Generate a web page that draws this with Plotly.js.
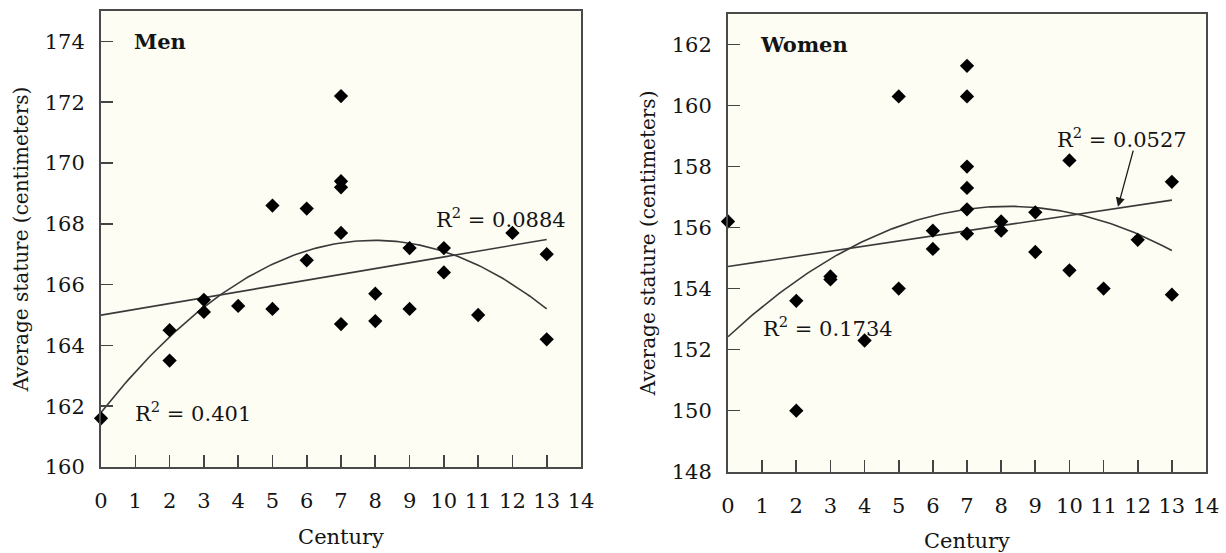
<!DOCTYPE html>
<html>
<head>
<meta charset="utf-8">
<script src="https://cdn.plot.ly/plotly-3.0.1.min.js"></script>
<style>html,body{margin:0;padding:0;background:#fff;}#chart{width:1226px;height:553px;}</style>
</head>
<body>
<div id="chart"></div>
<script>
// ---- data ----
const centuriesMen = [0,2,2,3,3,4,5,5,6,6,7,7,7,7,7,8,8,9,9,10,10,11,12,13,13];
const statureMen   = [161.6,164.5,163.5,165.5,165.1,165.3,168.6,165.2,168.5,166.8,172.2,169.4,169.2,167.7,164.7,165.7,164.8,167.2,165.2,167.2,166.4,165.0,167.7,167.0,164.2];
const centuriesWomen = [0,2,2,3,3,4,5,5,6,6,7,7,7,7,7,7,8,8,9,9,10,10,11,12,13,13];
const statureWomen   = [156.2,153.6,150.0,154.4,154.3,152.3,160.3,154.0,155.9,155.3,161.3,160.3,158.0,157.3,156.6,155.8,156.2,155.9,156.5,155.2,158.2,154.6,154.0,155.6,157.5,153.8];
const xTicks = [0,1,2,3,4,5,6,7,8,9,10,11,12,13,14];
const menTicks = [160,162,164,166,168,170,172,174];
const womenTicks = [148,150,152,154,156,158,160,162];
const panelLabels = ["Men","Women"];
const r2Men = ["R<sup>2</sup> = 0.0884","R<sup>2</sup> = 0.401"];
const r2Women = ["R<sup>2</sup> = 0.0527","R<sup>2</sup> = 0.1734"];

// least-squares polynomial fit (degree 1 or 2) computed from the data
function polyfit(xs, ys, deg){
  const n = deg+1;
  const A = [], b = [];
  for(let i=0;i<n;i++){A.push(new Array(n).fill(0)); b.push(0);}
  for(let k=0;k<xs.length;k++){
    for(let i=0;i<n;i++){
      b[i] += ys[k]*Math.pow(xs[k],i);
      for(let j=0;j<n;j++) A[i][j] += Math.pow(xs[k],i+j);
    }
  }
  for(let i=0;i<n;i++){
    let p=i; for(let r=i+1;r<n;r++) if(Math.abs(A[r][i])>Math.abs(A[p][i])) p=r;
    [A[i],A[p]]=[A[p],A[i]]; [b[i],b[p]]=[b[p],b[i]];
    for(let r=i+1;r<n;r++){const f=A[r][i]/A[i][i]; for(let c=i;c<n;c++) A[r][c]-=f*A[i][c]; b[r]-=f*b[i];}
  }
  const c = new Array(n).fill(0);
  for(let i=n-1;i>=0;i--){let s=b[i]; for(let j=i+1;j<n;j++) s-=A[i][j]*c[j]; c[i]=s/A[i][i];}
  return c;
}
function fitCurve(xs, ys, deg){
  const c = polyfit(xs, ys, deg);
  const lo = Math.min(...xs), hi = Math.max(...xs);
  const fx = [], fy = [];
  for(let i=0;i<=130;i++){
    const x = lo + (hi-lo)*i/130;
    let y = 0; for(let k=0;k<c.length;k++) y += c[k]*Math.pow(x,k);
    fx.push(x); fy.push(y);
  }
  return {x:fx, y:fy};
}

const FONT = "DejaVu Serif, Liberation Serif, serif";
const TXT = '#141414';
const lineStyle = {color:'#3a3a3a', width:1.6};
const marker = {symbol:'diamond', size:11, color:'#000'};

const lm = fitCurve(centuriesMen, statureMen, 1);
const qm = fitCurve(centuriesMen, statureMen, 2);
const lw = fitCurve(centuriesWomen, statureWomen, 1);
const qw = fitCurve(centuriesWomen, statureWomen, 2);

const traces = [
  {x:lm.x, y:lm.y, xaxis:'x', yaxis:'y', mode:'lines', line:lineStyle, hoverinfo:'skip'},
  {x:qm.x, y:qm.y, xaxis:'x', yaxis:'y', mode:'lines', line:lineStyle, hoverinfo:'skip'},
  {x:centuriesMen, y:statureMen, xaxis:'x', yaxis:'y', mode:'markers', marker:marker, cliponaxis:false},
  {x:lw.x, y:lw.y, xaxis:'x2', yaxis:'y2', mode:'lines', line:lineStyle, hoverinfo:'skip'},
  {x:qw.x, y:qw.y, xaxis:'x2', yaxis:'y2', mode:'lines', line:lineStyle, hoverinfo:'skip'},
  {x:centuriesWomen, y:statureWomen, xaxis:'x2', yaxis:'y2', mode:'markers', marker:marker, cliponaxis:false}
];

function xAxis(domain, anchor){
  return {domain:domain, anchor:anchor, range:[0,14], tickvals:xTicks, ticktext:xTicks.map(String),
    ticks:'inside', ticklen:12, tickwidth:1.6, tickcolor:'#444',
    showline:true, linecolor:'#4a4a4a', linewidth:2, mirror:true, showgrid:false, zeroline:false,
    ticklabelstandoff:14, tickfont:{family:FONT, size:21, color:TXT},
    title:{text:'Century', font:{family:FONT, size:21, color:TXT}, standoff:17}};
}
function yAxis(domain, anchor, range, ticks){
  return {domain:domain, anchor:anchor, range:range, tickvals:ticks, ticktext:ticks.map(String),
    ticks:'inside', ticklen:12, tickwidth:1.6, tickcolor:'#444',
    showline:true, linecolor:'#4a4a4a', linewidth:2, mirror:true, showgrid:false, zeroline:false,
    ticklabelstandoff:10, tickfont:{family:FONT, size:21, color:TXT},
    title:{text:'Average stature (centimeters)', font:{family:FONT, size:20, color:TXT}, standoff:11}};
}

const annFont = {family:FONT, size:21, color:TXT};
const layout = {
  width:1226, height:553,
  margin:{l:0, r:0, t:0, b:0},
  paper_bgcolor:'#ffffff', plot_bgcolor:'#fdfdf4',
  showlegend:false,
  xaxis: xAxis([0.0824,0.4739],'y'),
  yaxis: yAxis([0.1555,0.9801],'x',[160,175],menTicks),
  xaxis2: xAxis([0.5938,0.9837],'y2'),
  yaxis2: yAxis([0.147,0.9747],'x2',[148,163],womenTicks),
  annotations:[
    {xref:'x', yref:'y', x:0.9, y:174, text:'<b>'+panelLabels[0]+'</b>', showarrow:false, xanchor:'left', yanchor:'middle', font:annFont},
    {xref:'x', yref:'y', x:11.68, y:168.2, text:r2Men[0], showarrow:false, xanchor:'center', yanchor:'middle', font:annFont},
    {xref:'x', yref:'y', x:0.92, y:161.8, text:r2Men[1], showarrow:false, xanchor:'left', yanchor:'middle', font:annFont},
    {xref:'x2', yref:'y2', x:0.88, y:162, text:'<b>'+panelLabels[1]+'</b>', showarrow:false, xanchor:'left', yanchor:'middle', font:annFont},
    {xref:'x2', yref:'y2', x:11.55, y:158.95, text:r2Women[0], showarrow:false, xanchor:'center', yanchor:'middle', font:annFont},
    {xref:'x2', yref:'y2', x:0.98, y:152.75, text:r2Women[1], showarrow:false, xanchor:'left', yanchor:'middle', font:annFont},
    {xref:'x2', yref:'y2', x:11.42, y:156.68, axref:'x2', ayref:'y2', ax:11.88, ay:158.57, text:'', showarrow:true,
     arrowhead:2, arrowsize:1.4, arrowwidth:1.3, arrowcolor:'#1a1a1a', standoff:0}
  ]
};

Plotly.newPlot('chart', traces, layout, {staticPlot:true});
</script>
</body>
</html>
